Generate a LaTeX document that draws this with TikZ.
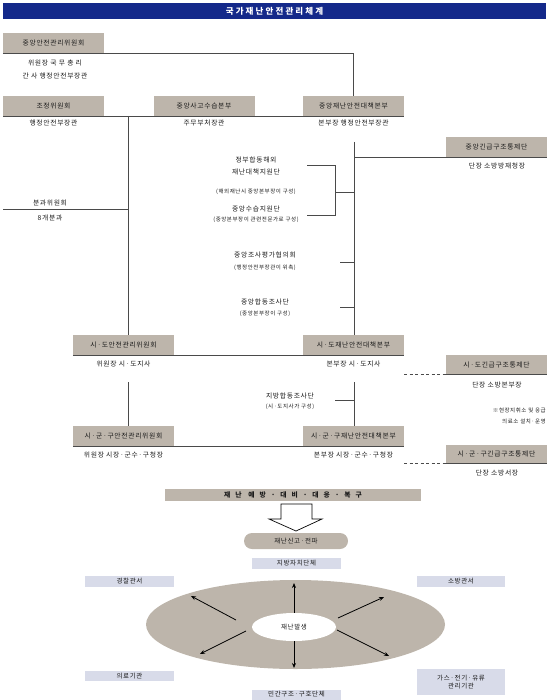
\documentclass[tikz,border=0pt]{standalone}
\usepackage{fontspec}
\setmainfont{Noto Sans CJK KR}
\newfontfamily\krs[LetterSpace=10]{Noto Sans CJK KR}
\newfontfamily\krt[LetterSpace=25]{Noto Sans CJK KR}
\newfontfamily\krw[LetterSpace=75]{Noto Sans CJK KR}
\usetikzlibrary{shapes.geometric,arrows.meta}
\definecolor{navy}{HTML}{14298A}
\definecolor{taupe}{HTML}{BDB5AB}
\definecolor{lav}{HTML}{D8DBE9}
\definecolor{ln}{HTML}{4A4A4A}
\definecolor{tx}{HTML}{1A1A1A}
\begin{document}
\begin{tikzpicture}[x=1pt,y=-1pt,
  graybox/.style={fill=taupe, inner sep=0pt, minimum width=101pt, minimum height=20pt, text=tx, font=\krs\fontsize{6.8}{8}\selectfont},
  lbl/.style={inner sep=0pt, text=tx, font=\krs\fontsize{6.8}{8}\selectfont},
  sm/.style={inner sep=0pt, text=tx, font=\krs\fontsize{5.5}{7}\selectfont},
  conn/.style={draw=ln, line width=0.9pt},
  dconn/.style={draw=ln, line width=0.9pt, dash pattern=on 3pt off 2.5pt},
  lavbox/.style={fill=lav, inner sep=0pt, minimum width=89pt, minimum height=11pt, text=tx, font=\krs\fontsize{6.5}{7.5}\selectfont, align=center},
  rad/.style={draw=black, line width=0.8pt, -{Stealth[length=5pt,width=4pt]}}
]
\useasboundingbox (0,0) rectangle (550,700);

% title
\node[fill=navy, minimum width=543pt, minimum height=16pt, inner sep=0pt, text=white, font=\krt\bfseries\fontsize{8.5}{10}\selectfont] (title) at (274.5,11) {국가재난안전관리체계};

% national level
\node[graybox] (cmc) at (53.5,43) {중앙안전관리위원회};
\node[lbl] (cmc1) at (55,63) {위원장 국 무 총 리};
\node[lbl] (cmc2) at (55,76) {간 사 행정안전부장관};

\node[graybox] (adj) at (53.5,106) {조정위원회};
\node[graybox] (csh) at (204,106) {중앙사고수습본부};
\node[graybox] (cdh) at (353.5,106) {중앙재난안전대책본부};
\node[lbl] (adj1) at (53.5,123) {행정안전부장관};
\node[lbl] (csh1) at (204,123) {주무부처장관};
\node[lbl] (cdh1) at (353.5,123) {본부장 행정안전부장관};

\node[graybox] (nec) at (496.5,147) {중앙긴급구조통제단};
\node[lbl] (nec1) at (497,166) {단장 소방방재청장};

\draw[conn] (cmc.south west) -| (cdh.north);
\draw[conn] (adj.south west) -- (cdh.south east);

% middle labels
\node[lbl] (m1) at (256,160) {정부합동해외};
\node[lbl] (m2) at (256,172) {재난대책지원단};
\node[sm] (m3) at (256,192) {(해외재난시 중앙본부장이 구성)};
\node[lbl] (m4) at (256,209) {중앙수습지원단};
\node[sm] (m5) at (256,220) {(중앙본부장이 관련전문가로 구성)};
\node[lbl] (m6) at (265,255) {중앙조사평가협의회};
\node[sm] (m7) at (265,268) {(행정안전부장관이 위촉)};
\node[lbl] (m8) at (265,302) {중앙합동조사단};
\node[sm] (m9) at (265,314) {(중앙본부장이 구성)};

\node[lbl] (sub) at (50,203) {분과위원회};
\node[lbl] (sub1) at (50,218) {8개분과};

% provincial level
\node[graybox] (sdc) at (123.5,345) {시·도안전관리위원회};
\node[graybox] (sdh) at (353.5,345) {시·도재난안전대책본부};
\node[lbl] (sdc1) at (123.5,364) {위원장 시·도지사};
\node[lbl] (sdh1) at (353.5,364) {본부장 시·도지사};

\node[graybox, minimum height=19pt] (sec) at (496.5,364.5) {시·도긴급구조통제단};
\node[lbl] (sec1) at (497,385) {단장 소방본부장};
\node[sm, anchor=east] (note1) at (546,410) {※현장지휘소 및 응급};
\node[sm, anchor=east] (note2) at (546,421) {의료소 설치·운영};

\node[lbl] (lj1) at (290,396) {지방합동조사단};
\node[sm] (lj2) at (290,407) {(시·도지사가 구성)};

% city level
\node[graybox] (sgc) at (123.5,436) {시·군·구안전관리위원회};
\node[graybox] (sgh) at (353.5,436) {시·군·구재난안전대책본부};
\node[lbl] (sgc1) at (123.5,455) {위원장 시장·군수·구청장};
\node[lbl] (sgh1) at (353.5,455) {본부장 시장·군수·구청장};
\node[graybox, minimum height=18pt] (sgec) at (496.5,454) {시·군·구긴급구조통제단};
\node[lbl] (sgec1) at (497,473) {단장 소방서장};

% vertical connectors
\coordinate (v1) at (128,116);
\draw[conn] (v1) -- (v1 |- sdc.north);
\draw[conn] (3,209) -- (128,209);
\coordinate (v2) at (354,142);
\draw[conn] (v2) -- (v2 |- sdh.north);
\draw[conn] (v2 |- nec.south) -- (nec.south east);
% bracket
\draw[conn] (307,165) -- (335,165) -- (335,215) -- (307,215);
\draw[conn] (335,192) -- (354,192);
\draw[conn] (340,262) -- (354,262);
\draw[conn] (340,307) -- (354,307);

\draw[conn] (sdc.south west) -- (sdh.south east);
\coordinate (v3) at (128,382);
\draw[conn] (v3) -- (v3 |- sgc.north);
\coordinate (v4) at (354,382);
\draw[conn] (v4) -- (v4 |- sgh.north);
\draw[conn] (335,400) -- (354,400);
\draw[conn] (sgc.south west) -- (sgh.south east);

\draw[dconn] (sdh.south east |- sec.south) -- (sec.south west);
\draw[conn] (sec.south west) -- (sec.south east);
\draw[dconn] (sgh.south east |- sgec.south) -- (sgec.south west);
\draw[conn] (sgec.south west) -- (sgec.south east);

% bottom part
\node[fill=taupe, minimum width=256pt, minimum height=12pt, inner sep=0pt, text=tx, font=\krw\bfseries\fontsize{6.8}{8}\selectfont] (bar) at (293,495) {재난 예방·대비·대응·복구};
\draw[draw=black, fill=white, line width=0.7pt] (281,504) -- (312,504) -- (312,519) -- (322,519) -- (296,531) -- (269,519) -- (281,519) -- cycle;
\node[fill=taupe, minimum width=104pt, minimum height=16pt, inner sep=0pt, rounded corners=8pt, text=tx, font=\krs\fontsize{6.5}{8}\selectfont] (rep) at (296,541) {재난신고·전파};

\node[ellipse, fill=taupe, minimum width=299pt, minimum height=89pt, inner sep=0pt] (disk) at (295.5,624.5) {};
\node[ellipse, fill=white, minimum width=84pt, minimum height=28pt, inner sep=0pt, text=tx, font=\krs\fontsize{6.5}{8}\selectfont] (occ) at (294,627) {재난발생};

\node[lavbox] (loc) at (296.5,563) {지방자치단체};
\node[lavbox] (pol) at (129.5,581.5) {경찰관서};
\node[lavbox, minimum width=88pt] (fire) at (461,581.5) {소방관서};
\node[lavbox, minimum height=10pt] (med) at (129.5,676) {의료기관};
\node[lavbox, minimum height=10pt] (civ) at (296.5,694.5) {민간구조·구호단체};
\node[lavbox, minimum width=88pt, minimum height=26pt] (gas) at (461,682) {가스·전기·유류\\[1pt]관리기관};

\coordinate (aN) at (294,583);
\coordinate (aS) at (294,668);
\coordinate (aNW) at (191,596);
\coordinate (aNE) at (384,597);
\coordinate (aSW) at (200,654);
\coordinate (aSE) at (389,656);
\draw[rad] (occ.north) -- (aN);
\draw[rad] (occ.south) -- (aS);
\draw[rad] (236,620) -- (aNW);
\draw[rad] (338,618) -- (aNE);
\draw[rad] (246,631) -- (aSW);
\draw[rad] (337,630) -- (aSE);
\end{tikzpicture}
\end{document}
